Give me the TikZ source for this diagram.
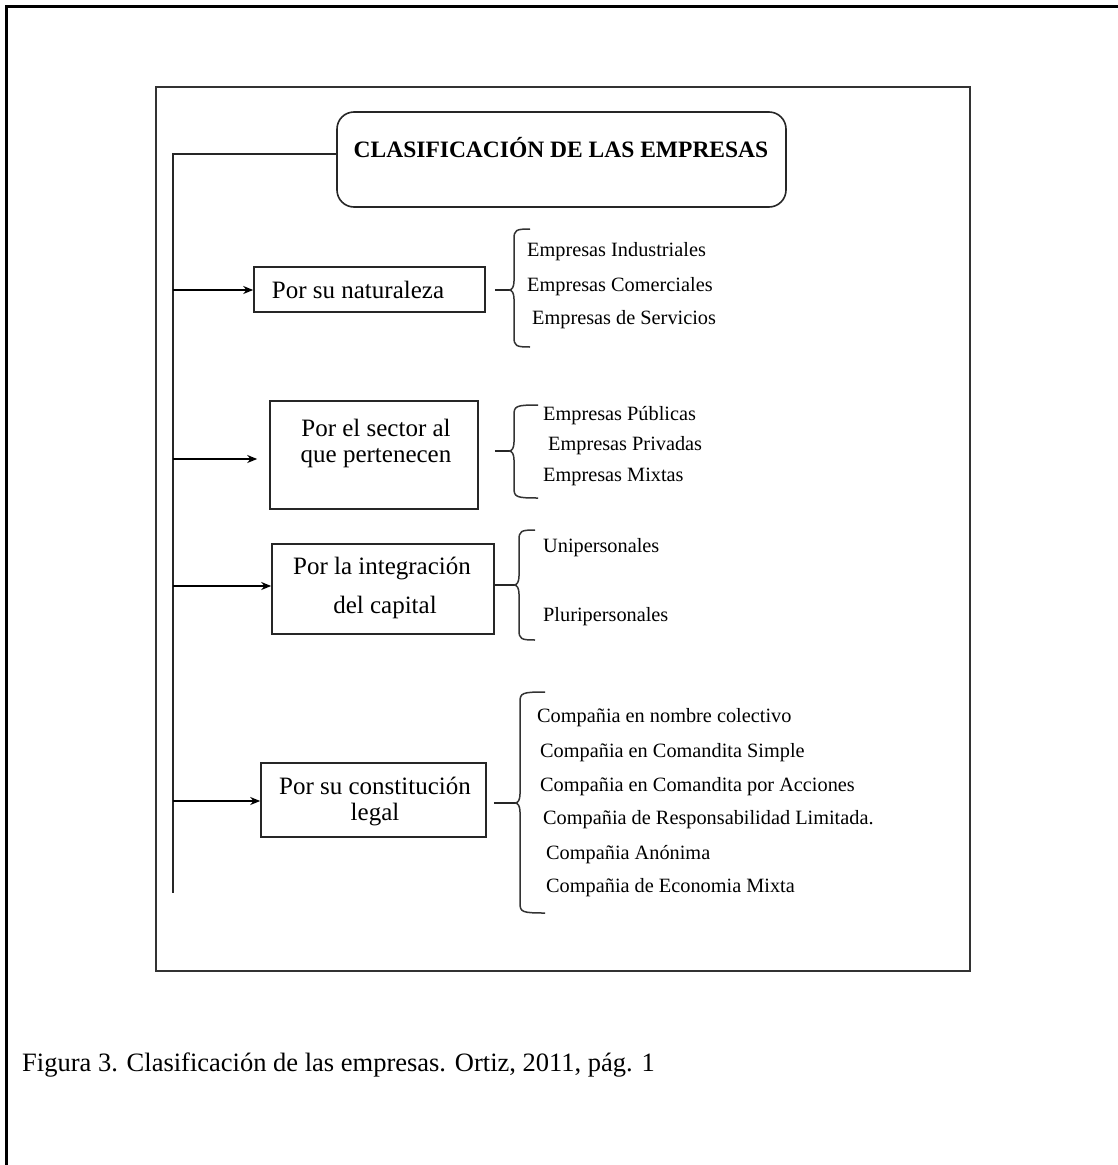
\documentclass[tikz,border=0pt]{standalone}
\usepackage{fontspec}
\setmainfont{Liberation Serif}
\usetikzlibrary{arrows.meta}
\newcommand{\mybrace}[5]{% #1 xv, #2 top, #3 mid, #4 bot, #5 curl end x
 \draw[bracest] (#5,#2) .. controls ({#1+2},#2) and (#1,{#2+1}) .. (#1,{#2+10}) -- (#1,{#3-9}) .. controls (#1,{#3-3}) and ({#1-2},#3) .. ({#1-5},#3) .. controls ({#1-2},#3) and (#1,{#3+3}) .. (#1,{#3+9}) -- (#1,{#4-10}) .. controls (#1,{#4-1}) and ({#1+2},#4) .. (#5,#4);}
\begin{document}
\begin{tikzpicture}[x=1pt,y=-1pt,
  boxst/.style={draw=black!85, line width=1.6pt, inner sep=0pt},
  boxtxt/.style={font=\fontsize{25}{28}\selectfont, inner sep=0pt, anchor=center},
  itemtxt/.style={font=\fontsize{20.3}{24}\selectfont, inner sep=0pt, anchor=west},
  conn/.style={line width=1.6pt, draw=black!85},
  arr/.style={line width=2pt, draw=black, -{Stealth[length=10pt,width=8pt]}},
  bracest/.style={line width=1.5pt, draw=black!80, line join=round}
]
\useasboundingbox (0,0) rectangle (1117,1165);
% outer frame
\draw[line width=3pt] (1125,6.5) -- (6.5,6.5) -- (6.5,1175);
% inner frame
\draw[line width=2pt, draw=black!80] (156,87) rectangle (970,971);

% title
\node[boxst, rounded corners=17pt, minimum width=449, minimum height=95] (title) at (561.5,159.5) {};
\node[font=\fontsize{23.5}{28}\selectfont\bfseries, inner sep=0pt] (titletext) at (561,148) {CLASIFICACIÓN DE LAS EMPRESAS};

% trunk
\coordinate (tt) at (173,154);
\coordinate (tb) at (173,893);
\draw[conn] (tt -| title.west) -- (tt) -- (tb);

% boxes
\node[boxst, minimum width=231, minimum height=45] (n1) at (369.5,289.5) {};
\node[boxtxt] (t1) at (358,290) {Por su naturaleza};
\node[boxst, minimum width=208, minimum height=108] (n2) at (374,455) {};
\node[boxtxt] (t2a) at (376,428) {Por el sector al};
\node[boxtxt] (t2b) at (376,458) {que pertenecen};
\node[boxst, minimum width=222, minimum height=90] (n3) at (383,589) {};
\node[boxtxt] (t3a) at (382,568) {Por la integración};
\node[boxtxt] (t3b) at (385,607) {del capital};
\node[boxst, minimum width=225, minimum height=74] (n4) at (373.5,800) {};
\node[boxtxt] (t4a) at (375,786) {Por su constitución};
\node[boxtxt] (t4b) at (375,815) {legal};

% arrows
\coordinate (a1) at (173,290);
\coordinate (a2) at (173,459);
\coordinate (a3) at (173,586);
\coordinate (a4) at (173,801);
\draw[arr] (a1) -- (a1 -| n1.west);
\draw[arr, shorten >=12pt] (a2) -- (a2 -| n2.west);
\draw[arr] (a3) -- (a3 -| n3.west);
\draw[arr] (a4) -- (a4 -| n4.west);

% braces
\mybrace{514}{229}{290}{347}{530}
\mybrace{514}{405}{451}{498}{538}
\mybrace{519}{530}{585}{640}{535}
\mybrace{520}{692}{803}{913}{545}
\coordinate (c1) at (509,290);
\coordinate (c2) at (509,451);
\coordinate (c3) at (514,585);
\coordinate (c4) at (515,803);
\draw[conn, shorten <=9pt] (c1 -| n1.east) -- (c1);
\draw[conn, shorten <=16pt] (c2 -| n2.east) -- (c2);
\draw[conn] (c3 -| n3.east) -- (c3);
\draw[conn, shorten <=7pt] (c4 -| n4.east) -- (c4);

% items
\node[itemtxt] (i11) at (527,252) {Empresas Industriales};
\node[itemtxt] (i12) at (527,287) {Empresas Comerciales};
\node[itemtxt] (i13) at (532,320) {Empresas de Servicios};
\node[itemtxt] (i21) at (543,416) {Empresas Públicas};
\node[itemtxt] (i22) at (548,446) {Empresas Privadas};
\node[itemtxt] (i23) at (543,477) {Empresas Mixtas};
\node[itemtxt] (i31) at (543,548) {Unipersonales};
\node[itemtxt] (i32) at (543,617) {Pluripersonales};
\node[itemtxt] (i41) at (537,718) {Compañia en nombre colectivo};
\node[itemtxt] (i42) at (540,753) {Compañia en Comandita Simple};
\node[itemtxt] (i43) at (540,787) {Compañia en Comandita por Acciones};
\node[itemtxt] (i44) at (543,820) {Compañia de Responsabilidad Limitada.};
\node[itemtxt] (i45) at (546,855) {Compañia Anónima};
\node[itemtxt] (i46) at (546,888) {Compañia de Economia Mixta};

% caption
\node[anchor=west, font=\fontsize{26.5}{30}\selectfont, inner sep=0pt] (cap) at (22,1065) {Figura 3. Clasificación de las empresas. Ortiz, 2011, pág. 1};
\end{tikzpicture}
\end{document}
